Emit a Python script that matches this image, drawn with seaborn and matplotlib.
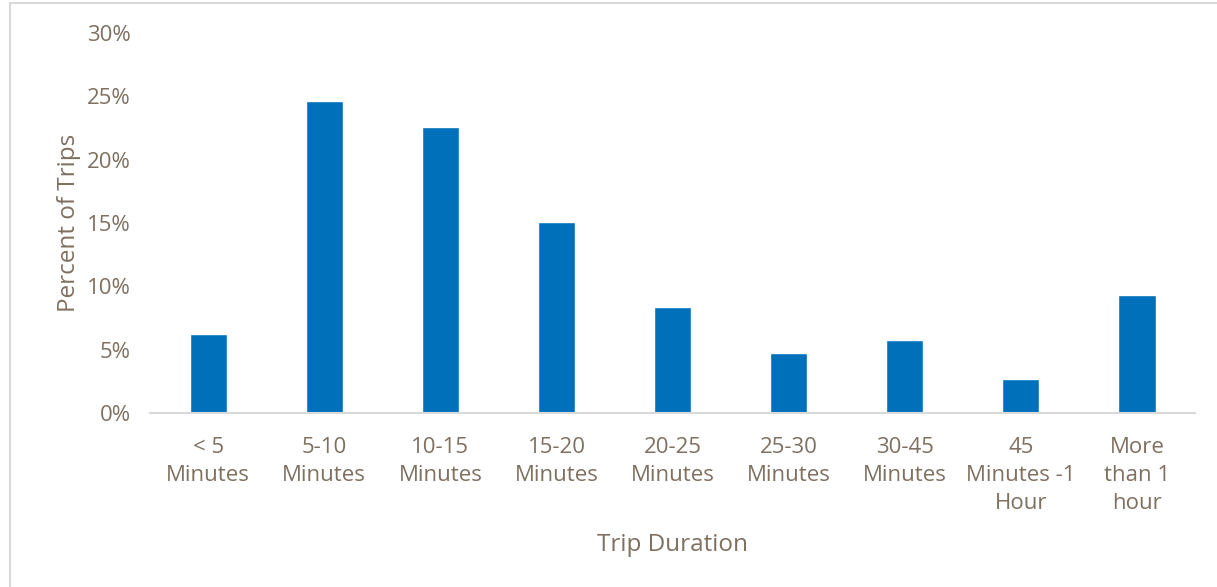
import pandas as pd
import matplotlib.pyplot as plt
import seaborn as sns
from matplotlib.patches import Rectangle

# Data
durations = ['< 5\nMinutes', '5-10\nMinutes', '10-15\nMinutes', '15-20\nMinutes',
             '20-25\nMinutes', '25-30\nMinutes', '30-45\nMinutes',
             '45\nMinutes -1\nHour', 'More\nthan 1\nhour']
pct_trips = [6.2, 24.6, 22.6, 15.1, 8.4, 4.7, 5.8, 2.7, 9.3]

df = pd.DataFrame({'Duration': durations, 'Percent': pct_trips})

sns.set_style('white')
plt.rcParams['font.family'] = ['Open Sans', 'DejaVu Sans']
text_col = '#7F7060'

fig = plt.figure(figsize=(12.17, 5.87), dpi=100)
ax = fig.add_axes([0.1233, 0.2964, 0.8587, 0.6474])

sns.barplot(data=df, x='Duration', y='Percent', color='#0070BA', saturation=1,
            width=0.32, ax=ax)

ax.set_ylim(0, 30)
ax.set_yticks([0, 5, 10, 15, 20, 25, 30])
ax.set_yticklabels([f'{v}%' for v in range(0, 31, 5)], color=text_col, fontsize=16)
ax.set_xticks(range(len(durations)))
ax.set_xticklabels(durations, color=text_col, fontsize=16, linespacing=1.45)
ax.tick_params(axis='x', length=0, pad=17)
ax.tick_params(axis='y', length=0, pad=14)

ax.set_xlabel('Trip Duration', color=text_col, fontsize=17.5, labelpad=14)
ax.set_ylabel('Percent of Trips', color=text_col, fontsize=17.5, labelpad=4)

for s in ['top', 'right', 'left']:
    ax.spines[s].set_visible(False)
ax.spines['bottom'].set_color('#D9D9D9')
ax.spines['bottom'].set_linewidth(1.5)

# outer chart border
fig.patches.append(Rectangle((10 / 1217, -0.01), 1.02, 1 - 3 / 587 + 0.01,
                             transform=fig.transFigure, fill=False,
                             edgecolor='#D9D9D9', linewidth=1.5))

fig.savefig('out.png', dpi=100)
